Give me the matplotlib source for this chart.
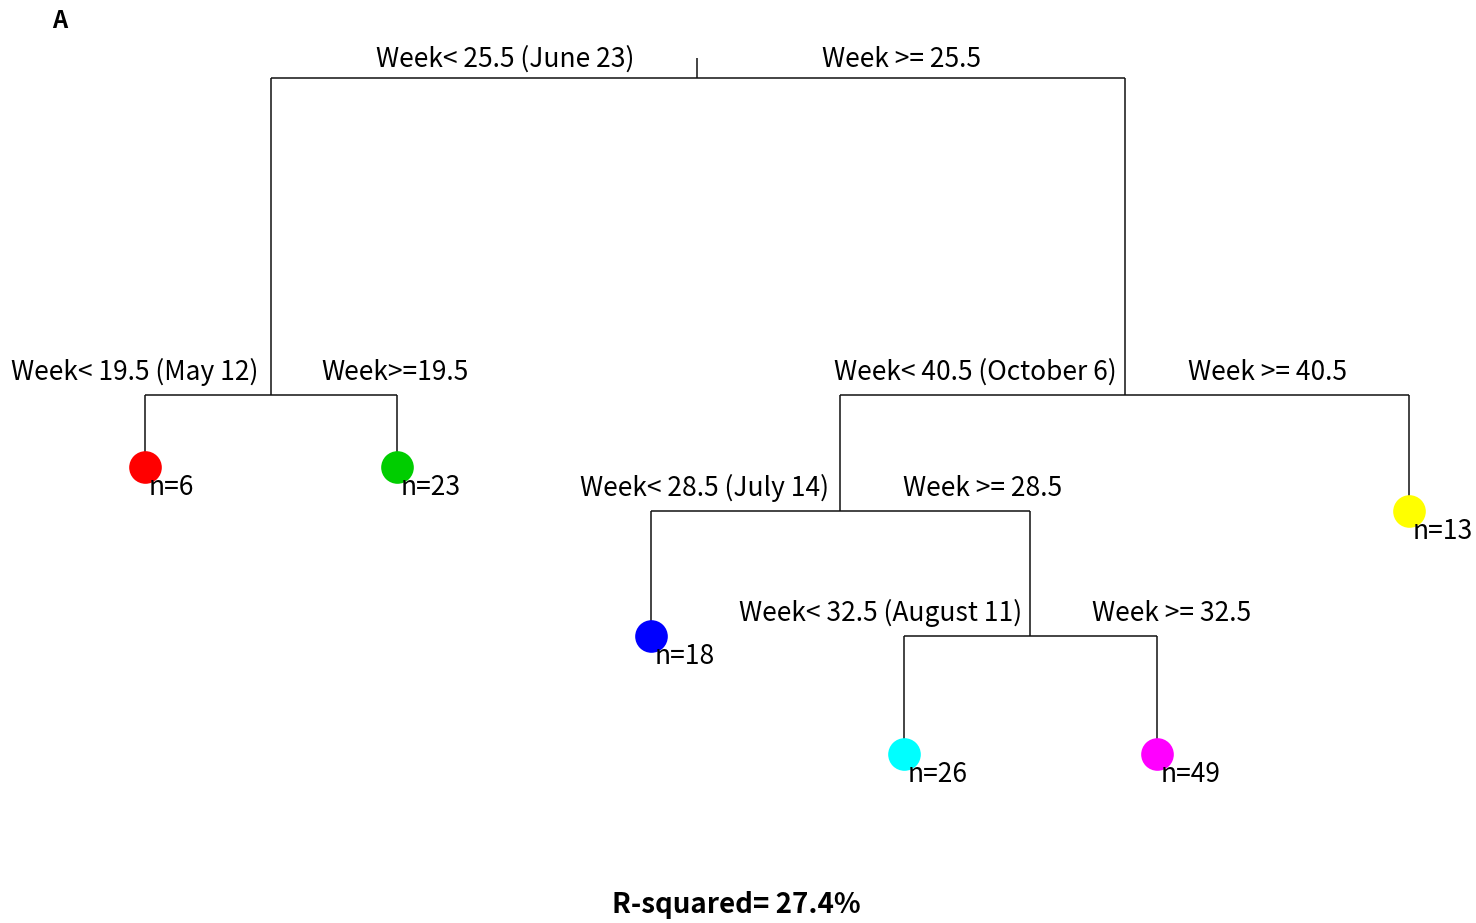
import matplotlib.pyplot as plt

# split labels (internal nodes, top-down) and leaf sizes / colours
split_left = ["Week< 25.5 (June 23)", "Week< 19.5 (May 12)", "Week< 40.5 (October 6)",
              "Week< 28.5 (July 14)", "Week< 32.5 (August 11)"]
split_right = ["Week >= 25.5", "Week>=19.5", "Week >= 40.5", "Week >= 28.5", "Week >= 32.5"]
leaf_n = [6, 23, 13, 18, 26, 49]
leaf_colors = ["#ff0000", "#00cd00", "#ffff00", "#0000ff", "#00ffff", "#ff00ff"]
r_squared = 27.4

# tree layout in pixel coordinates (x, y from top)
split_xy = [(697, 78), (271, 395), (1125, 395), (840, 511), (1030, 636)]
leaf_xy = [(145, 467), (397, 467), (1409, 511), (651, 636), (904, 754), (1157, 754)]
# children of each split: ("s", idx) or ("l", idx)
children = [(("s", 1), ("s", 2)),
            (("l", 0), ("l", 1)),
            (("s", 3), ("l", 2)),
            (("l", 3), ("s", 4)),
            (("l", 4), ("l", 5))]
label_x = [(505, 902), (135, 395), (975, 1267), (705, 983), (881, 1172)]

FONT = ["Noto Sans CJK KR", "DejaVu Sans"]
FS = 19

W, H = 1476, 923
fig = plt.figure(figsize=(W / 100, H / 100), dpi=100)
ax = fig.add_axes([0, 0, 1, 1])
ax.set_xlim(0, W)
ax.set_ylim(H, 0)
ax.axis("off")

line_kw = dict(color="#111111", lw=1.1, solid_capstyle="butt")

# root stub
ax.plot([split_xy[0][0]] * 2, [split_xy[0][1] - 20, split_xy[0][1]], **line_kw)

for i, (x, y) in enumerate(split_xy):
    kids = []
    for kind, j in children[i]:
        kids.append(split_xy[j] if kind == "s" else leaf_xy[j])
    ax.plot([kids[0][0], kids[1][0]], [y, y], **line_kw)
    for kx, ky in kids:
        ax.plot([kx, kx], [y, ky], **line_kw)
    lx, rx = label_x[i]
    dy = 11 if i == 0 else 15
    ax.text(lx, y - dy, split_left[i], ha="center", va="baseline",
            fontsize=FS, family=FONT, color="black")
    ax.text(rx, y - dy, split_right[i], ha="center", va="baseline",
            fontsize=FS, family=FONT, color="black")

for (x, y), n, c in zip(leaf_xy, leaf_n, leaf_colors):
    ax.plot(x, y, "o", ms=23.5, color=c, mec="none", zorder=3)
    ax.text(x + 4, y + 28, f"n={n}", ha="left", va="baseline",
            fontsize=FS, family=FONT, color="black", zorder=4)

ax.text(60, 21, "A", ha="center", va="center", fontsize=17, fontweight="bold",
        family=FONT)
ax.text(736, 905, f"R-squared= {r_squared}%", ha="center", va="center",
        fontsize=20, fontweight="bold", family=FONT)

fig.savefig("out.png", dpi=100)
